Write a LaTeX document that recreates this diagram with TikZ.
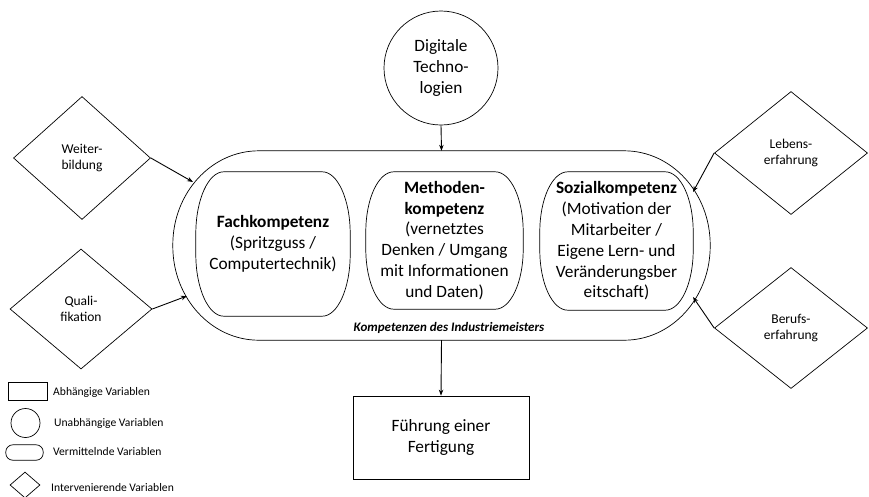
\documentclass[tikz,border=0pt]{standalone}
\usepackage{fontspec}
\setmainfont{Carlito}
\usetikzlibrary{shapes.geometric,arrows.meta,calc}

% outline of a node with elliptical corners: node name, x radius, y radius
\newcommand\softoutline[3]{%
  \draw[line width=0.7pt]
    ($(#1.north west)+(#2,0)$) -- ($(#1.north east)+(-#2,0)$)
    .. controls ($(#1.north east)+(-#2*0.448,0)$) and ($(#1.north east)+(0,#3*0.448)$) .. ($(#1.north east)+(0,#3)$)
    -- ($(#1.south east)+(0,-#3)$)
    .. controls ($(#1.south east)+(0,-#3*0.448)$) and ($(#1.south east)+(-#2*0.448,0)$) .. ($(#1.south east)+(-#2,0)$)
    -- ($(#1.south west)+(#2,0)$)
    .. controls ($(#1.south west)+(#2*0.448,0)$) and ($(#1.south west)+(0,-#3*0.448)$) .. ($(#1.south west)+(0,-#3)$)
    -- ($(#1.north west)+(0,#3)$)
    .. controls ($(#1.north west)+(0,#3*0.448)$) and ($(#1.north west)+(#2*0.448,0)$) .. cycle;}

\begin{document}
\begin{tikzpicture}[x=1pt,y=-1pt,
  base/.style={draw, line width=0.7pt},
  diam/.style={base, diamond, inner sep=0pt, align=center,
    font=\fontsize{13.5}{16}\selectfont},
  comp/.style={inner sep=0pt, align=center,
    font=\fontsize{17.3}{20.8}\selectfont},
  arr/.style={-{Stealth[length=6pt,width=4.5pt]}, line width=0.9pt},
  legtext/.style={anchor=west, inner sep=0pt, font=\fontsize{11.6}{13}\selectfont}
]
\useasboundingbox (0,0) rectangle (869,496);

% mediating block with the three competences
\node[minimum width=537pt, minimum height=189pt] (outer) at (441.5,245.5) {};
\softoutline{outer}{86}{94}
\node[comp, minimum width=154pt, minimum height=144pt] (fach) at (273,244)
  {\textbf{Fachkompetenz}\\(Spritzguss /\\Computertechnik)};
\softoutline{fach}{28}{62}
\node[comp, minimum width=157pt, minimum height=137pt] (meth) at (444.5,240.5)
  {\textbf{Methoden-}\\\textbf{kompetenz}\\(vernetztes\\Denken / Umgang\\mit Informationen\\und Daten)};
\softoutline{meth}{28}{60}
\node[comp, minimum width=153pt, minimum height=138pt] (sozial) at (616.5,241)
  {\textbf{Sozialkompetenz}\\(Motivation der\\Mitarbeiter /\\Eigene Lern- und\\Veränderungsber\\eitschaft)};
\softoutline{sozial}{28}{60}
\node[font=\fontsize{13}{15}\selectfont\bfseries\itshape] (label) at (449,328)
  {Kompetenzen des Industriemeisters};

% independent variable
\node[base, circle, minimum size=114pt, align=center, font=\fontsize{17.3}{20.8}\selectfont] (digital) at (441,68)
  {Digitale\\Techno-\\logien};
\draw[arr] (digital.south) -- (outer.north);

% dependent variable
\node[base, minimum width=176pt, minimum height=83pt, align=center, font=\fontsize{17.3}{20.5}\selectfont] (fuehrung) at (441,437.5)
  {Führung einer\\Fertigung};
\draw[arr] (outer.south) -- (fuehrung.north);

% intervening variables
\node[diam, minimum width=137pt, minimum height=123pt] (weiter) at (82,158) {Weiter-\\bildung};
\node[diam, minimum width=142pt, minimum height=120pt] (quali) at (81,309) {Quali-\\fikation};
\node[diam, minimum width=153pt, minimum height=123pt] (lebens) at (791,153) {Lebens-\\erfahrung};
\node[diam, minimum width=153pt, minimum height=121pt] (berufs) at (791,328) {Berufs-\\erfahrung};

\coordinate (inW) at (193,182);
\coordinate (inQ) at (187,296);
\coordinate (inL) at (693,192);
\coordinate (inB) at (693,297);
\draw[arr] (weiter.east) -- (inW);
\draw[arr] (quali.east) -- (inQ);
\draw[arr] (lebens.west) -- (inL);
\draw[arr] (berufs.west) -- (inB);

% legend
\node[base, minimum width=39pt, minimum height=18pt, inner sep=0pt] (lrect) at (27.5,391) {};
\node[legtext] (trect) at (53,392) {Abhängige Variablen};
\node[base, circle, minimum size=29pt, inner sep=0pt] (lcirc) at (25.5,423) {};
\node[legtext] (tcirc) at (54,423) {Unabhängige Variablen};
\node[minimum width=37pt, minimum height=15pt, inner sep=0pt] (lround) at (24.5,452.5) {};
\softoutline{lround}{7}{7}
\node[legtext] (tround) at (53,452) {Vermittelnde Variablen};
\node[base, diamond, minimum width=30pt, minimum height=26pt, inner sep=0pt] (ldiam) at (25,485) {};
\node[legtext] (tdiam) at (51,488) {Intervenierende Variablen};
\end{tikzpicture}
\end{document}
